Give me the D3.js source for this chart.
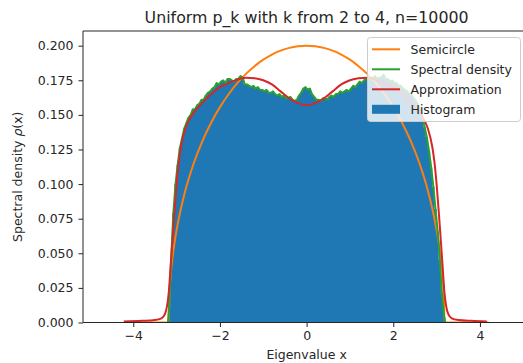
<!DOCTYPE html>
<html>
<head>
<meta charset="utf-8">
<script src="https://cdn.jsdelivr.net/npm/d3@7"></script>
<style>
  html, body { margin: 0; padding: 0; background: #fff; }
  svg { display: block; font-family: "DejaVu Sans", sans-serif; }
</style>
</head>
<body>
<svg id="chart" width="523" height="363"></svg>
<script>
// Histogram of eigenvalues: bins of width 0.05 starting at -3.2
const binStart = -3.2;
const binWidth = 0.05;
const histHeights = [
  0.010, 0.046, 0.079, 0.100, 0.114, 0.126, 0.133, 0.140, 0.144, 0.148,
  0.150, 0.154, 0.154, 0.157, 0.158, 0.161, 0.161, 0.164, 0.166, 0.167,
  0.169, 0.170, 0.173, 0.172, 0.174, 0.175, 0.173, 0.176, 0.176, 0.175,
  0.174, 0.176, 0.176, 0.178, 0.177, 0.172, 0.172, 0.171, 0.170, 0.171,
  0.169, 0.170, 0.168, 0.168, 0.167, 0.168, 0.166, 0.166, 0.167, 0.165,
  0.164, 0.165, 0.163, 0.164, 0.162, 0.162, 0.163, 0.161, 0.160, 0.161,
  0.164, 0.166, 0.169, 0.170, 0.168, 0.169, 0.165, 0.163, 0.161, 0.161,
  0.160, 0.162, 0.162, 0.161, 0.163, 0.164, 0.163, 0.165, 0.165, 0.167,
  0.166, 0.167, 0.168, 0.167, 0.169, 0.171, 0.170, 0.172, 0.174, 0.173,
  0.175, 0.176, 0.175, 0.177, 0.176, 0.178, 0.176, 0.177, 0.177, 0.179,
  0.176, 0.176, 0.174, 0.175, 0.173, 0.173, 0.171, 0.171, 0.169, 0.168,
  0.167, 0.165, 0.164, 0.162, 0.160, 0.157, 0.154, 0.148, 0.141, 0.134,
  0.124, 0.112, 0.098, 0.082, 0.066, 0.045, 0.020, 0.004
];

// Empirical spectral density sampled at the bin centres
const densityValues = histHeights.slice();

// Wigner semicircle reference curve
const semiX = [-4.2, -3.183, -3.17, -3.15, -3.1, -3.05, -3.0, -2.8, -2.6, -2.4, -2.2, -2.0,
  -1.8, -1.6, -1.4, -1.2, -1.0, -0.8, -0.6, -0.4, -0.2, 0,
  0.2, 0.4, 0.6, 0.8, 1.0, 1.2, 1.4, 1.6, 1.8, 2.0, 2.2, 2.4, 2.6, 2.8,
  3.0, 3.05, 3.1, 3.15, 3.17, 3.183, 4.2];
const semiY = [0, 0, 0.0181, 0.0288, 0.0454, 0.0572, 0.0668, 0.0951, 0.1154, 0.1314, 0.1445, 0.1556,
  0.1649, 0.1729, 0.1796, 0.1852, 0.1899, 0.1936, 0.1964, 0.1984, 0.1996, 0.2,
  0.1996, 0.1984, 0.1964, 0.1936, 0.1899, 0.1852, 0.1796, 0.1729, 0.1649, 0.1556, 0.1445, 0.1314, 0.1154, 0.0951,
  0.0668, 0.0572, 0.0454, 0.0288, 0.0181, 0, 0];

// Analytic approximation of the density
const approxX = [-4.22, -3.8, -3.5, -3.35, -3.27, -3.22, -3.18, -3.14, -3.1, -3.05, -3.0, -2.95, -2.9,
  -2.8, -2.7, -2.6, -2.4, -2.2, -2.0, -1.8, -1.6, -1.4, -1.2, -1.0, -0.8, -0.6, -0.4, -0.2, 0,
  0.2, 0.4, 0.6, 0.8, 1.0, 1.2, 1.4, 1.6, 1.8, 2.0, 2.2, 2.4, 2.6, 2.7, 2.8,
  2.9, 2.95, 3.0, 3.05, 3.1, 3.14, 3.18, 3.22, 3.27, 3.35, 3.5, 3.8, 4.16];
const approxY = [0.0008, 0.0012, 0.0018, 0.003, 0.006, 0.012, 0.022, 0.040, 0.058, 0.080, 0.100, 0.116, 0.127,
  0.140, 0.147, 0.152, 0.159, 0.165, 0.170, 0.173, 0.1755, 0.1768, 0.1765, 0.175, 0.172, 0.167, 0.162, 0.1585, 0.157,
  0.1585, 0.162, 0.167, 0.172, 0.175, 0.1765, 0.1768, 0.1755, 0.173, 0.170, 0.165, 0.159, 0.152, 0.147, 0.140,
  0.127, 0.116, 0.100, 0.080, 0.058, 0.040, 0.022, 0.012, 0.006, 0.003, 0.0018, 0.0012, 0.0008];

const yTicks = [0, 0.025, 0.05, 0.075, 0.1, 0.125, 0.15, 0.175, 0.2];
const xTicks = [-4, -2, 0, 2, 4];

const legendItems = [
  { label: "Semicircle", color: "#ff7f0e", type: "line" },
  { label: "Spectral density", color: "#2ca02c", type: "line" },
  { label: "Approximation", color: "#d62728", type: "line" },
  { label: "Histogram", color: "#1f77b4", type: "patch" }
];

const svg = d3.select("#chart");
const plotLeft = 83, plotRight = 530.2, plotTop = 31, plotBottom = 322.5;

const x = d3.scaleLinear().domain([-5.16, 5.16]).range([plotLeft, plotRight]);
const y = d3.scaleLinear().domain([0, 0.2106]).range([plotBottom, plotTop]);

svg.append("defs").append("clipPath").attr("id", "plotClip")
  .append("rect").attr("x", plotLeft).attr("y", plotTop)
  .attr("width", plotRight - plotLeft).attr("height", plotBottom - plotTop);

const plot = svg.append("g").attr("clip-path", "url(#plotClip)");

// Histogram drawn as a stepped filled region
const edges = [];
histHeights.forEach((h, i) => {
  const x0 = binStart + i * binWidth;
  edges.push([x0, h], [x0 + binWidth, h]);
});
plot.append("path")
  .datum(edges)
  .attr("fill", "#1f77b4")
  .attr("d", d3.area().x(d => x(d[0])).y0(y(0)).y1(d => y(d[1])));

// Semicircle
plot.append("path")
  .datum(semiX.map((v, i) => [v, semiY[i]]))
  .attr("fill", "none").attr("stroke", "#ff7f0e").attr("stroke-width", 2)
  .attr("d", d3.line().x(d => x(d[0])).y(d => y(d[1])).curve(d3.curveMonotoneX));

// Spectral density
const densPts = [[binStart, 0]].concat(
  densityValues.map((v, i) => [binStart + (i + 0.5) * binWidth, v]),
  [[binStart + histHeights.length * binWidth, 0]]);
plot.append("path")
  .datum(densPts)
  .attr("fill", "none").attr("stroke", "#2ca02c").attr("stroke-width", 2)
  .attr("stroke-linejoin", "round")
  .attr("d", d3.line().x(d => x(d[0])).y(d => y(d[1])));

// Approximation
plot.append("path")
  .datum(approxX.map((v, i) => [v, approxY[i]]))
  .attr("fill", "none").attr("stroke", "#d62728").attr("stroke-width", 2)
  .attr("d", d3.line().x(d => x(d[0])).y(d => y(d[1])).curve(d3.curveMonotoneX));

// Axes
const yAxis = svg.append("g").attr("transform", `translate(${plotLeft},0)`)
  .call(d3.axisLeft(y).tickValues(yTicks).tickFormat(d3.format(".3f")).tickSize(4.5).tickPadding(5));
const xAxis = svg.append("g").attr("transform", `translate(0,${plotBottom})`)
  .call(d3.axisBottom(x).tickValues(xTicks).tickFormat(d3.format("d")).tickSize(4.5).tickPadding(4));
[yAxis, xAxis].forEach(g => {
  g.selectAll("text").attr("font-size", 12.5).attr("fill", "#262626")
    .attr("font-family", "DejaVu Sans, sans-serif");
  g.selectAll("line").attr("stroke", "#262626").attr("stroke-width", 1);
  g.select(".domain").remove();
});

// Frame (left, top, bottom spines)
svg.append("path")
  .attr("d", `M${plotRight},${plotTop}H${plotLeft}V${plotBottom}H${plotRight}`)
  .attr("fill", "none").attr("stroke", "#262626").attr("stroke-width", 1);

// Titles
svg.append("text").attr("x", (plotLeft + plotRight) / 2).attr("y", 23)
  .attr("text-anchor", "middle").attr("font-size", 15.8).attr("fill", "#262626")
  .text("Uniform p_k with k from 2 to 4, n=10000");
svg.append("text").attr("x", (plotLeft + plotRight) / 2).attr("y", 359)
  .attr("text-anchor", "middle").attr("font-size", 12.5).attr("fill", "#262626")
  .text("Eigenvalue x");
const yl = svg.append("text")
  .attr("transform", `translate(22,${(plotTop + plotBottom) / 2}) rotate(-90)`)
  .attr("text-anchor", "middle").attr("font-size", 12.5).attr("fill", "#262626");
yl.append("tspan").text("Spectral density ");
yl.append("tspan").attr("font-style", "italic").text("ρ");
yl.append("tspan").text("(x)");

// Legend
const lg = svg.append("g");
lg.append("rect").attr("x", 367.5).attr("y", 37.5).attr("width", 153).attr("height", 84)
  .attr("rx", 3).attr("fill", "#fff").attr("fill-opacity", 0.8)
  .attr("stroke", "#ccc").attr("stroke-width", 1);
legendItems.forEach((d, i) => {
  const cy = 49.3 + i * 20;
  if (d.type === "line") {
    lg.append("line").attr("x1", 372).attr("x2", 400).attr("y1", cy).attr("y2", cy)
      .attr("stroke", d.color).attr("stroke-width", 2);
  } else {
    lg.append("rect").attr("x", 372).attr("y", cy - 4.5).attr("width", 28).attr("height", 9)
      .attr("fill", d.color);
  }
  lg.append("text").attr("x", 410.5).attr("y", cy + 4.5)
    .attr("font-size", 12.5).attr("fill", "#262626").text(d.label);
});
</script>
</body>
</html>
